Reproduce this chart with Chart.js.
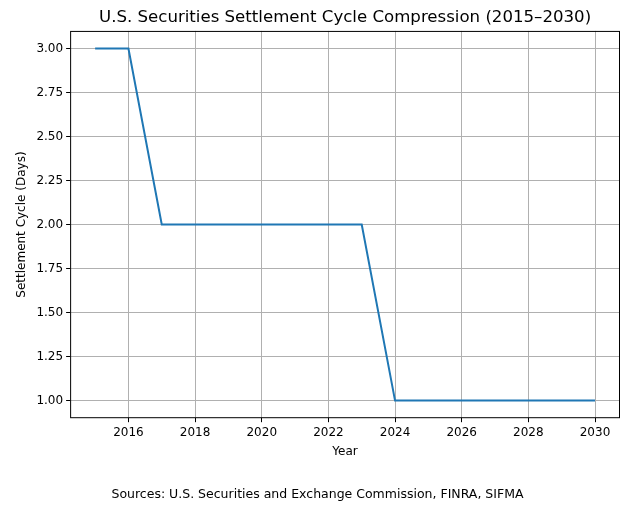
<!DOCTYPE html>
<html>
<head>
<meta charset="utf-8">
<script src="https://cdn.jsdelivr.net/npm/chart.js@4"></script>
<style>
  html, body { margin: 0; padding: 0; background: #fff; }
  #wrap { width: 630px; height: 512px; }
</style>
</head>
<body>
<div id="wrap"><canvas id="cycleChart"></canvas></div>
<script>
// ===== data =====
const years = [2015, 2016, 2017, 2018, 2019, 2020, 2021, 2022, 2023, 2024, 2025, 2026, 2027, 2028, 2029, 2030];
const settlementDays = [3, 3, 2, 2, 2, 2, 2, 2, 2, 1, 1, 1, 1, 1, 1, 1];
const xTicks = [2016, 2018, 2020, 2022, 2024, 2026, 2028, 2030];
const yTicks = [1.0, 1.25, 1.5, 1.75, 2.0, 2.25, 2.5, 2.75, 3.0];
const chartTitle = 'U.S. Securities Settlement Cycle Compression (2015\u20132030)';

const FONT = 'DejaVu Sans';
const gridColor = '#b0b0b0';

const cycleCtx = document.getElementById('cycleChart').getContext('2d');
const cycleChart = new Chart(cycleCtx, {
  type: 'line',
  data: {
    datasets: [{
      label: 'Settlement Cycle',
      data: years.map((y, i) => ({ x: y, y: settlementDays[i] })),
      borderColor: '#1f77b4',
      borderWidth: 2,
      pointRadius: 0,
      tension: 0,
      fill: false
    }]
  },
  options: {
    responsive: true,
    maintainAspectRatio: false,
    animation: false,
    layout: { padding: { top: 3, right: 10, left: 15, bottom: 4 } },
    plugins: {
      legend: { display: false },
      tooltip: { enabled: false },
      // title space is reserved here, text itself is drawn centred on the plot area below
      title: {
        display: true,
        text: chartTitle,
        color: 'rgba(0,0,0,0)',
        font: { family: FONT, size: 16.6, weight: 'normal' },
        padding: { top: 2, bottom: 6 }
      },
      subtitle: {
        display: true,
        position: 'bottom',
        text: 'Sources: U.S. Securities and Exchange Commission, FINRA, SIFMA',
        color: '#000',
        font: { family: FONT, size: 12.5 },
        padding: { top: 26, bottom: 6 }
      }
    },
    scales: {
      x: {
        type: 'linear',
        min: 2014.25,
        max: 2030.75,
        afterBuildTicks: (scale) => { scale.ticks = xTicks.map(v => ({ value: v })); },
        ticks: {
          color: '#000',
          font: { family: FONT, size: 12 },
          callback: (v) => String(v),
          maxRotation: 0,
          padding: 3
        },
        grid: { color: gridColor, tickColor: '#000', tickLength: 4 },
        border: { display: false },
        title: {
          display: true,
          text: 'Year',
          color: '#000',
          font: { family: FONT, size: 12 },
          padding: { top: 2, bottom: 2 }
        }
      },
      y: {
        type: 'linear',
        min: 0.9,
        max: 3.1,
        afterBuildTicks: (scale) => { scale.ticks = yTicks.map(v => ({ value: v })); },
        ticks: {
          color: '#000',
          font: { family: FONT, size: 12 },
          callback: (v) => Number(v).toFixed(2),
          padding: 3
        },
        grid: { color: gridColor, tickColor: '#000', tickLength: 4 },
        border: { display: false },
        title: {
          display: true,
          text: 'Settlement Cycle (Days)',
          color: '#000',
          font: { family: FONT, size: 12 },
          padding: { top: 0, bottom: 4 }
        }
      }
    }
  },
  plugins: [{
    // axes frame + title centred over the plot area
    id: 'frame',
    afterDraw(chart) {
      const { ctx, chartArea: a } = chart;
      ctx.save();
      ctx.strokeStyle = '#000';
      ctx.lineWidth = 1;
      ctx.strokeRect(a.left + 0.5, a.top + 0.5, a.right - a.left - 1, a.bottom - a.top - 1);
      ctx.fillStyle = '#000';
      ctx.font = '16.6px "' + FONT + '"';
      ctx.textAlign = 'center';
      ctx.textBaseline = 'middle';
      ctx.fillText(chartTitle, (a.left + a.right) / 2, 18);
      ctx.restore();
    }
  }]
});
</script>
</body>
</html>
